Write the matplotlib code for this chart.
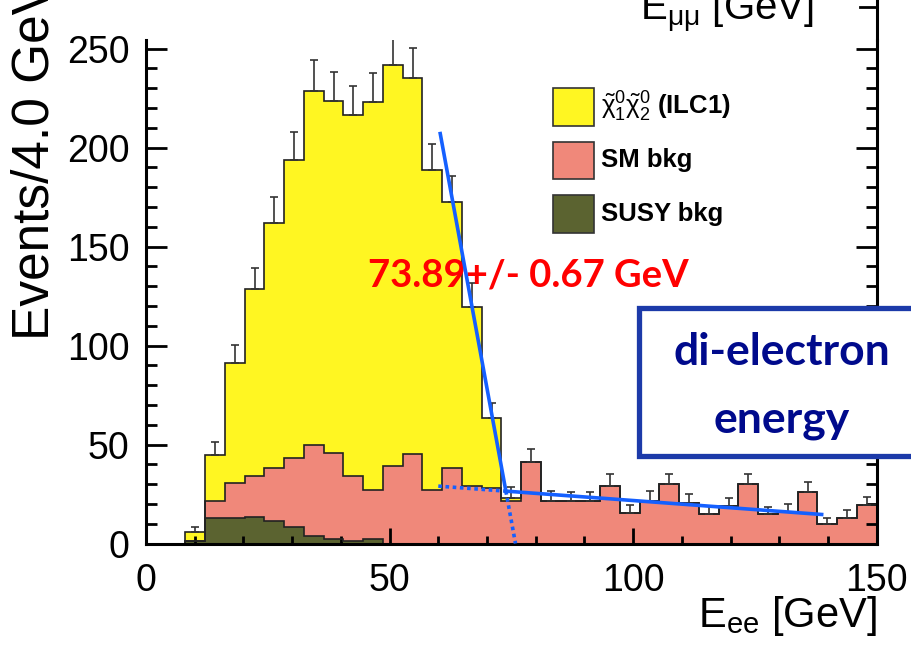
import numpy as np
import matplotlib
matplotlib.use("Agg")
from matplotlib import pyplot as plt
from matplotlib.patches import Rectangle

plt.rcParams['font.family'] = ['Liberation Sans', 'DejaVu Sans']
plt.rcParams['mathtext.fontset'] = 'custom'
plt.rcParams['mathtext.rm'] = 'Liberation Sans'
plt.rcParams['mathtext.it'] = 'Liberation Sans'
plt.rcParams['mathtext.bf'] = 'Liberation Sans:bold'

# binning of the histogram (37 bins, "4.0 GeV")
e_min, e_max, n_bins = 0.0, 150.0, 37

# bin contents
susy_bkg = [0, 0, 1.5, 12.7, 12.7, 13.5, 11.5, 8.2, 3.8, 2.1, 1.1, 2.1, 0,
            0, 0, 0, 0, 0, 0, 0, 0, 0, 0, 0, 0, 0, 0, 0, 0, 0, 0, 0, 0, 0, 0, 0, 0]
sm_bkg = [0, 0, 0, 8.8, 17.7, 20.8, 26.8, 35.2, 45.9, 43.8, 33.2, 24.9, 39.3,
          45.4, 27.0, 38.0, 29.0, 28.2, 21.5, 41.2, 21.5, 21.5, 21.5, 29.0, 15.2,
          21.5, 29.9, 20.3, 14.7, 18.9, 29.9, 14.7, 16.1, 25.8, 9.7, 13.0, 19.4]
signal = [0, 0, 4.5, 23.2, 60.9, 94.1, 123.7, 150.3, 179.0, 177.6, 181.9, 195.8,
          202.5, 189.7, 161.6, 134.3, 90.6, 35.0, 1.3, 0, 0, 0, 0, 0, 0, 0, 0, 0,
          0, 0, 0, 0, 0, 0, 0, 0, 0]
err_up = [0, 0, 2.5, 6.4, 9.0, 10.6, 12.9, 14.3, 15.5, 14.6, 15.0, 15.0, 15.6,
          15.0, 13.4, 13.3, 11.8, 7.6, 5.6, 6.5, 5.0, 4.3, 4.3, 6.1, 4.2, 5.2,
          5.2, 4.7, 4.2, 4.2, 5.2, 3.6, 3.8, 5.4, 3.3, 3.9, 4.2]

# edge fit: steep line + linear background
edge_slope, edge_zero = 13.4, 75.85
bkg_const, bkg_slope = 39.9, -0.182
edge_from, bkg_from, bkg_to = 60.4, 60.0, 138.7
fit_label = "73.89+/- 0.67 GeV"

labels = [r"$\tilde{\chi}^{0}_{1}\tilde{\chi}^{0}_{2}$ (ILC1)", "SM bkg", "SUSY bkg"]
c_sig, c_sm, c_susy = "#fff622", "#f0887a", "#5b6330"
c_fit = "#1560ff"

edges = np.linspace(e_min, e_max, n_bins + 1)
centers = 0.5 * (edges[1:] + edges[:-1])
susy = np.array(susy_bkg)
sm_top = susy + np.array(sm_bkg)
total = sm_top + np.array(signal)

fig = plt.figure(figsize=(9.12, 6.5), dpi=100)
ax = fig.add_axes([146 / 912, 1 - 543.5 / 650, 730.7 / 912, 503.5 / 650])

for vals, col in [(total, c_sig), (sm_top, c_sm), (susy, c_susy)]:
    ax.stairs(vals, edges, fill=True, facecolor=col, edgecolor='none', zorder=1)
    ax.stairs(vals, edges, color='#222222', lw=1.2, zorder=2)

m = total > 0
ax.errorbar(centers[m], total[m], yerr=[np.zeros(m.sum()), np.array(err_up)[m]],
            fmt='none', ecolor='#333333', elinewidth=1.2, capsize=2.6,
            capthick=1.2, zorder=3)

# fit lines
x_int = (edge_slope * edge_zero - bkg_const) / (edge_slope + bkg_slope)
def edge_line(x):
    return edge_slope * (edge_zero - x)
def bkg_line(x):
    return bkg_const + bkg_slope * x
xs = np.array([edge_from, x_int])
ax.plot(xs, edge_line(xs), color=c_fit, lw=2.6, zorder=6)
xs = np.array([x_int, edge_zero])
ax.plot(xs, edge_line(xs), color=c_fit, lw=2.6, ls=(0, (1, 1)), zorder=6)
xs = np.array([x_int, bkg_to])
ax.plot(xs, bkg_line(xs), color=c_fit, lw=2.6, zorder=6)
xs = np.array([bkg_from, x_int])
ax.plot(xs, bkg_line(xs), color=c_fit, lw=2.6, ls=(0, (1, 1)), zorder=6)

ax.text(45.6, 130, fit_label, color='#ff0000', fontsize=27.5, fontweight='bold',
        family='Lato', zorder=5)

ax.set_xlim(e_min, e_max)
ax.set_ylim(0, 254.3)
ax.set_xticks([0, 50, 100, 150])
ax.set_xticks(np.arange(0, 151, 10), minor=True)
ax.set_yticks([0, 50, 100, 150, 200, 250])
ax.set_yticks(np.arange(0, 251, 10), minor=True)
ax.spines['top'].set_visible(False)
for s in ['left', 'bottom', 'right']:
    ax.spines[s].set_linewidth(2.2)
ax.tick_params(axis='both', which='both', direction='in', width=2.0,
               right=True, top=False, labelsize=27)
ax.tick_params(axis='y', which='major', length=15, pad=12)
ax.tick_params(axis='y', which='minor', length=8)
ax.tick_params(axis='x', which='major', length=11.5, pad=14)
ax.tick_params(axis='x', which='minor', length=6)

ax.set_xlabel(r"E$_{\rm ee}$ [GeV]", fontsize=30, loc='right')
ax.xaxis.set_label_coords(1.0, -0.1)
ax.set_ylabel("Events/4.0 GeV", fontsize=37, loc='bottom')
ax.yaxis.set_label_coords(-0.118, 0.405)

# top fragments from the adjacent panel
fig.text(640 / 912, 1 - 20 / 650, r"E$_{\mu\mu}$ [GeV]", fontsize=29)
ax.plot([150, 150], [254.3, 280], color='black', lw=2.2, clip_on=False)
ax.plot([146.5, 150], [271, 271], color='black', lw=2.0, clip_on=False)

# legend, drawn as boxes + labels
for i, (lab, col) in enumerate(zip(labels, [c_sig, c_sm, c_susy])):
    y_bot = 1 - (125.7 + 53.5 * i) / 650
    fig.add_artist(Rectangle((553 / 912, y_bot), 41 / 912, 37.4 / 650,
                             transform=fig.transFigure, facecolor=col,
                             edgecolor='#333333', lw=1.2))
    fig.text(601 / 912, y_bot + 18.7 / 650, lab, fontsize=18.5, fontweight='bold',
             va='center', ha='left')

# label box
box = Rectangle((639 / 912, 1 - 456 / 650), 300 / 912, 148 / 650,
                transform=fig.transFigure, facecolor='white',
                edgecolor='#1c3aa9', lw=3.8, zorder=10)
fig.add_artist(box)
fig.text(782 / 912, 1 - 365 / 650, "di-electron", ha='center', va='baseline',
         fontsize=32, fontweight='bold', family='Lato', color='#000a8c', zorder=11)
fig.text(782 / 912, 1 - 433 / 650, "energy", ha='center', va='baseline',
         fontsize=32, fontweight='bold', family='Lato', color='#000a8c', zorder=11)

fig.savefig("out.png", dpi=100)
